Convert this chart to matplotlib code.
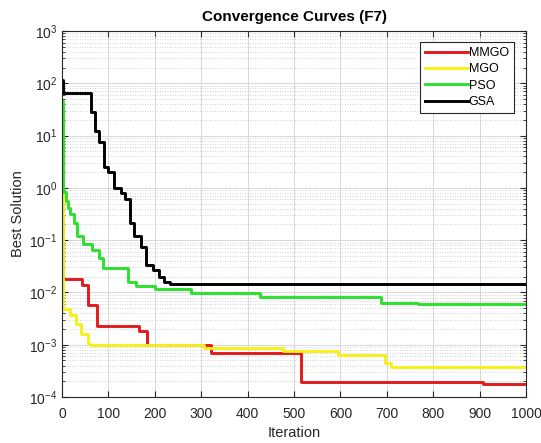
import matplotlib
matplotlib.use("Agg")
import matplotlib.pyplot as plt
from matplotlib.ticker import FixedLocator, MultipleLocator, NullFormatter

plt.rcParams['font.family'] = ['Liberation Sans', 'DejaVu Sans']
plt.rcParams['mathtext.default'] = 'regular'

# step breakpoints (iteration, best value) for each optimiser
mmgo_it = [0, 3, 44, 56, 75, 166, 184, 322, 514, 907, 1000]
mmgo_val = [0.3, 0.0178, 0.014, 0.0058, 0.0023, 0.0018, 0.001, 0.00069, 0.00019, 0.000176, 0.000176]

mgo_it = [0, 3, 18, 30, 40, 55, 62, 305, 477, 595, 696, 710, 1000]
mgo_val = [0.8, 0.0049, 0.0037, 0.0025, 0.0016, 0.00105, 0.001, 0.00088, 0.00075, 0.00063, 0.00045, 0.00037, 0.00037]

pso_it = [0, 3, 8, 12, 18, 25, 32, 45, 65, 80, 88, 142, 160, 200, 278, 427, 688, 767, 1000]
pso_val = [45, 0.85, 0.55, 0.42, 0.32, 0.21, 0.12, 0.085, 0.066, 0.046, 0.029, 0.016, 0.0135, 0.0118, 0.0099, 0.0082, 0.0064, 0.006, 0.006]

gsa_it = [0, 3, 62, 72, 80, 90, 100, 112, 128, 136, 146, 155, 170, 180, 197, 208, 220, 232, 1000]
gsa_val = [115, 65, 28, 12, 7.5, 2.5, 2.0, 1.0, 0.8, 0.6, 0.21, 0.12, 0.075, 0.034, 0.027, 0.02, 0.016, 0.0145, 0.0145]

decades = [-4, -3, -2, -1, 0, 1, 2, 3]

fig = plt.figure(figsize=(5.41, 4.43), dpi=100)
ax = fig.add_axes([0.1146, 0.1038, 0.8577, 0.8262])

ax.plot(mmgo_it, mmgo_val, drawstyle='steps-post', color='#e31a1c', lw=2.1, label='MMGO')
ax.plot(mgo_it, mgo_val, drawstyle='steps-post', color='#f7f01a', lw=2.1, label='MGO')
ax.plot(pso_it, pso_val, drawstyle='steps-post', color='#2ee02e', lw=2.1, label='PSO')
ax.plot(gsa_it, gsa_val, drawstyle='steps-post', color='black', lw=2.1, label='GSA')

ax.set_yscale('log')
ax.set_xlim(0, 1000)
ax.set_ylim(1e-4, 1e3)
ax.xaxis.set_major_locator(MultipleLocator(100))
ax.set_yticks([10.0 ** d for d in decades])
ax.set_yticklabels(['$10^{%d}$' % d for d in decades])
minor = [m * 10.0 ** d for d in decades[:-1] for m in range(2, 10)]
ax.yaxis.set_minor_locator(FixedLocator(minor))
ax.yaxis.set_minor_formatter(NullFormatter())

ax.grid(True, which='major', color='#d8d8d8', lw=0.7, ls='-')
ax.grid(True, which='minor', axis='y', color='#c4c4c4', lw=0.6, ls=(0, (1, 2)))
ax.set_axisbelow(True)

ax.tick_params(which='both', direction='in', top=True, right=True, colors='#262626', labelsize=10)
ax.tick_params(which='minor', length=2)
ax.tick_params(which='major', length=4)
ax.tick_params(axis='x', which='major', pad=7)
for s in ax.spines.values():
    s.set_color('#262626')
    s.set_linewidth(0.8)

ax.set_title('Convergence Curves (F7)', fontsize=11, fontweight='bold', pad=7)
ax.set_xlabel('Iteration', fontsize=10.5, color='#262626', labelpad=4)
ax.set_ylabel('Best Solution', fontsize=10.5, color='#262626', labelpad=3)

leg = ax.legend(loc='upper right', bbox_to_anchor=(0.974, 0.970), fontsize=9,
                handlelength=3.4, handletextpad=0.1, labelspacing=0.35,
                borderpad=0.4, fancybox=False, framealpha=1, borderaxespad=0)
leg.get_frame().set_edgecolor('#262626')
leg.get_frame().set_linewidth(0.8)

plt.savefig('out.png', dpi=100)
